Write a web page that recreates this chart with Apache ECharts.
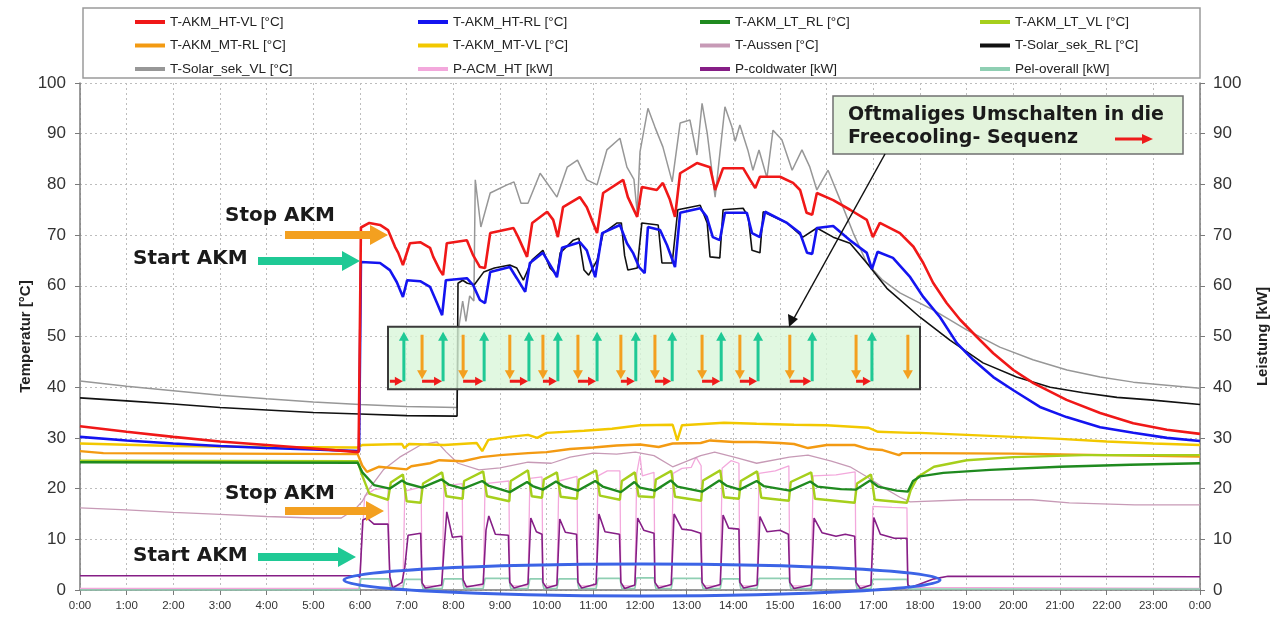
<!DOCTYPE html>
<html><head><meta charset="utf-8">
<script src="https://cdn.jsdelivr.net/npm/echarts/dist/echarts.min.js"></script>
<style>html,body{margin:0;padding:0;background:#fff}#c{width:1281px;height:621px}</style>
</head><body><div id="c"></div>
<script>
// ---------- tick labels ----------
const hourLabels = ['0:00','1:00','2:00','3:00','4:00','5:00','6:00','7:00','8:00','9:00','10:00','11:00','12:00','13:00','14:00','15:00','16:00','17:00','18:00','19:00','20:00','21:00','22:00','23:00','0:00'];

// ---------- AKM on/off switching times (hours) ----------
const cycleStart = [6.0, 6.94, 7.78, 8.66, 9.62, 10.24, 11.08, 11.91, 12.69, 13.74, 14.53, 15.69, 16.97];
const cycleStop  = [6.64, 7.33, 8.21, 9.21, 9.92, 10.67, 11.59, 12.32, 13.33, 14.14, 15.21, 16.63, 17.74];

// ---------- series values [hour, value] ----------
const htVl = [[0,32.3],[1,31.2],[2,30.2],[3,29.3],[4,28.6],[5,27.9],[5.97,27.2],[6.02,71.5],[6.2,72.4],[6.43,72],[6.6,71],[6.75,67.7],[6.82,66.5],[6.92,64.1],[7.07,68.4],[7.29,68.6],[7.5,67.5],[7.57,65.7],[7.71,63.1],[7.78,62.1],[7.86,68.4],[8.29,69],[8.42,66.1],[8.57,63.7],[8.68,63.5],[8.79,70.4],[9.29,71.4],[9.39,69.6],[9.58,65.7],[9.69,72.4],[10.01,74.6],[10.14,73],[10.24,69.6],[10.35,75.5],[10.71,77.5],[10.86,75.5],[11.08,70.4],[11.21,78.3],[11.64,80.9],[11.74,77.5],[11.94,73.6],[12.04,79.5],[12.36,78.9],[12.49,80.3],[12.64,77],[12.75,73.6],[12.86,82.2],[13.22,84.2],[13.5,83.4],[13.61,78.9],[13.78,83.2],[14.21,83.2],[14.36,80.9],[14.47,79.3],[14.57,81.5],[15.0,81.5],[15.28,80.3],[15.43,78.9],[15.57,74.4],[15.69,74],[15.79,78.3],[16.14,76.9],[16.5,75],[16.86,73],[16.99,69.6],[17.14,72.4],[17.57,70.4],[17.86,67.7],[18.07,64.5],[18.28,60.6],[18.57,56.6],[18.86,53.3],[19.22,49.9],[19.57,46.7],[20.0,43.4],[20.43,40.8],[21.14,37.5],[21.86,34.9],[22.57,32.9],[23.29,31.6],[24,30.8]];
const htRl = [[0,30.2],[1,29.5],[2,28.9],[3,28.4],[4,28],[5,27.7],[5.98,27.4],[6.02,64.7],[6.43,64.5],[6.64,63.1],[6.79,60.7],[6.92,57.8],[7.01,61.1],[7.29,60.9],[7.5,59.8],[7.65,56.6],[7.76,54.2],[7.84,61.1],[8.29,61.5],[8.42,60.2],[8.57,57.2],[8.68,56.6],[8.79,62.7],[9.21,63.7],[9.36,61.5],[9.54,58.8],[9.64,64.5],[9.92,66.5],[10.14,63.1],[10.22,61.7],[10.33,67.5],[10.71,68.6],[10.86,67],[11.04,61.7],[11.19,70.4],[11.57,72],[11.72,68.4],[11.85,66.5],[11.98,63.7],[12.1,62.5],[12.17,71.6],[12.43,71],[12.58,68],[12.75,63.7],[12.86,74.4],[13.29,75.3],[13.43,73.6],[13.56,69.6],[13.71,69],[13.82,74.4],[14.29,74.4],[14.4,70.4],[14.57,69.6],[14.68,74.6],[15.15,72.4],[15.43,70.4],[15.58,66.5],[15.69,66.3],[15.79,71.4],[16.14,71.8],[16.5,69],[16.86,66.5],[16.97,63.3],[17.09,66.7],[17.42,65.5],[17.79,61.7],[18.07,57.8],[18.43,53.8],[18.79,48.7],[19.14,45.4],[19.57,42],[20.0,39.4],[20.57,36.1],[21.14,34.1],[21.86,32.1],[22.57,31],[23.29,30],[24,29.4]];
const ltRl = [[0,25.2],[5.95,25.1],[6.05,23.2],[6.3,20.7],[6.64,20.0],[6.9,21.6],[7.0,21.0],[7.33,20.2],[7.75,21.8],[7.9,20.8],[8.21,20.0],[8.62,21.5],[8.75,20.6],[9.21,19.3],[9.58,21.3],[9.7,20.5],[9.92,19.8],[10.2,21.4],[10.35,20.5],[10.67,19.6],[11.04,21.5],[11.2,20.4],[11.59,19.3],[11.88,21.3],[12.0,20.2],[12.32,19.6],[12.66,21.6],[12.8,20.4],[13.33,19.4],[13.7,21.6],[13.85,20.6],[14.14,19.8],[14.5,21.5],[14.65,20.5],[15.21,19.6],[15.65,21.4],[15.8,20.4],[16.3,19.9],[16.63,19.8],[16.93,21.6],[17.1,20.4],[17.5,19.6],[17.74,19.4],[17.85,21.5],[18.0,22.4],[18.5,23.1],[19.5,23.7],[21,24.3],[22.5,24.7],[24,25.0]];
const ltVl = [[0,25.5],[5.95,25.4],[6.05,22.5],[6.2,19],[6.6,17.8],[6.66,21.2],[6.92,22.8],[7.0,17.5],[7.3,17.2],[7.35,21],[7.76,23.2],[7.85,18.5],[8.2,18],[8.23,21.5],[8.64,23.4],[8.72,18.5],[9.2,17.5],[9.23,21.5],[9.6,23.6],[9.68,18.5],[9.9,18.2],[9.94,21.8],[10.22,23.2],[10.3,18.4],[10.65,18],[10.69,21.8],[11.06,23.6],[11.14,18.6],[11.57,17.8],[11.61,21.5],[11.89,23.2],[11.97,18.5],[12.3,18.3],[12.34,21.8],[12.67,23.5],[12.75,18.4],[13.31,17.6],[13.35,21.6],[13.72,23.6],[13.8,18.3],[14.12,18],[14.16,21.5],[14.51,23.4],[14.6,18.2],[15.19,17.6],[15.23,21.3],[15.67,23.2],[15.75,18],[16.6,17.2],[16.65,21],[16.95,22.8],[17.03,17.8],[17.72,17.2],[17.8,19.7],[17.95,22.3],[18.3,24.3],[19.0,25.6],[20,26.2],[21.5,26.6],[24,26.6]];
const mtRl = [[0,27.4],[0.5,27.0],[5.95,26.8],[6.05,24.5],[6.15,23.3],[6.4,24.3],[7.0,23.8],[7.1,24.4],[7.5,25],[7.7,25.6],[8.2,25.4],[8.6,26.2],[9.0,26.6],[9.6,27],[10.0,27.2],[10.5,27.8],[11.0,28.1],[11.5,28.5],[12.0,28.7],[12.4,28.2],[12.7,28.9],[13.3,29],[13.5,29.5],[14.0,29.2],[14.5,29.2],[15.0,29],[15.3,28.8],[15.6,28],[16.0,28.6],[16.6,28.6],[16.9,27.8],[17.2,27.6],[17.55,26.6],[17.62,27],[18,27],[20,26.9],[22,26.6],[24,26.3]];
const mtVl = [[0,28.9],[2,28.4],[4,28.2],[5.95,28.1],[6.05,28.6],[6.9,28.8],[6.95,28],[7.05,28.8],[7.8,28.6],[8.5,29],[8.62,27.4],[8.75,29.6],[9.2,30.2],[9.6,30.6],[9.8,30],[10.0,31],[10.8,31.4],[11.4,31.8],[12.0,32.5],[12.7,32.6],[12.8,29.5],[12.9,32.5],[13.8,33],[14.5,32.8],[15.3,32.6],[16.0,32.5],[16.9,32],[17.1,31.2],[17.8,31],[18,31],[19,30.6],[20,30.2],[21,29.8],[22,29.3],[23,28.9],[24,28.6]];
const tAussen = [[0,16.2],[1,15.8],[2,15.3],[3,14.9],[4,14.5],[5,14.2],[5.6,14.2],[5.9,16],[6.05,17.5],[6.2,20],[6.5,23.7],[6.85,26.2],[7.3,28.6],[7.65,29.2],[7.85,27.2],[8.1,25],[8.55,23.7],[9.0,24.1],[9.6,25.2],[10.1,25],[10.5,26.2],[11.0,27],[11.5,26.8],[11.9,27.2],[12.3,26.5],[12.7,24.3],[13.3,26.5],[13.6,27.2],[14.1,26],[14.5,25],[15.2,26.2],[15.6,26.6],[16.1,25.4],[16.5,24.3],[16.87,22.3],[17.2,20.3],[17.57,18.3],[17.79,17.4],[19,17.8],[20.4,17.8],[21.2,17.2],[22.6,16.8],[24,16.8]];
const solarRl = [[0,37.9],[1,37.3],[2,36.7],[3,36],[4,35.5],[5,35],[6,34.7],[7,34.4],[8.08,34.3],[8.1,60.5],[8.2,61.1],[8.3,60.5],[8.45,60.2],[8.65,62.7],[8.88,63.5],[9.21,64.1],[9.36,63.5],[9.5,61.1],[9.69,65.1],[9.92,67],[10.07,63.5],[10.22,62.1],[10.29,66.5],[10.57,69],[10.69,69.4],[10.8,63.1],[10.9,62.1],[11.08,65],[11.21,70.4],[11.51,72.4],[11.6,72.4],[11.67,66],[11.74,63.1],[11.94,63.5],[12.04,72.4],[12.39,72],[12.47,64.5],[12.69,64.5],[12.81,75],[13.29,75.9],[13.44,72.4],[13.5,65.7],[13.71,65.5],[13.78,75],[14.21,75.3],[14.32,73.6],[14.4,67],[14.57,66.5],[14.64,74.6],[15.15,72.4],[15.49,69.6],[15.79,71.4],[16.14,69.6],[16.5,68.4],[16.86,64.5],[17.29,59.5],[18.0,53.8],[18.64,49.3],[19.35,44.8],[20.07,42],[20.79,40],[21.5,38.9],[22.22,38],[22.93,37.5],[24,36.6]];
const solarVl = [[0,41.2],[1,40.2],[2,39.3],[3,38.4],[4,37.7],[5,37.1],[6,36.6],[7,36.2],[8.08,36],[8.12,52],[8.2,57],[8.27,53],[8.35,58],[8.44,57],[8.47,80.9],[8.59,71.6],[8.79,78.3],[9.15,79.9],[9.3,80.5],[9.45,76.3],[9.6,76.3],[9.86,82.2],[10.22,77.5],[10.44,83.4],[10.66,84.8],[10.86,80.9],[11.08,79.9],[11.29,86.8],[11.57,89.1],[11.72,83.4],[11.87,81],[11.94,74.4],[12.0,86.4],[12.17,95],[12.32,91.3],[12.49,87.4],[12.69,80.5],[12.86,92.1],[13.07,92.7],[13.22,85.8],[13.33,96],[13.44,90.1],[13.61,77.5],[13.82,95.3],[13.97,91.3],[14.04,88.5],[14.14,91.7],[14.31,86.8],[14.42,82.8],[14.55,86.8],[14.72,81.3],[14.85,90.7],[15.04,88.8],[15.26,82.8],[15.47,86.8],[15.64,83.4],[15.79,78.9],[16.03,82.8],[16.29,76.9],[16.57,70.4],[16.86,64.5],[17.2,61.1],[17.57,58.6],[18.29,55.2],[19.0,51.3],[19.71,47.9],[20.42,45.4],[21.15,43.4],[21.86,42],[22.57,41],[24,39.8]];
const pAcmHt = [[0,0.3],[5.98,0.3],[6.03,8],[6.1,18.5],[6.3,19.8],[6.6,20.2],[6.64,0.8],[6.92,0.8],[6.96,19.5],[7.31,20.3],[7.33,0.8],[7.76,0.8],[7.8,20.5],[8.19,21],[8.21,0.8],[8.64,0.8],[8.68,21],[9.19,21.5],[9.21,0.8],[9.6,0.8],[9.64,22],[9.9,22.3],[9.92,0.8],[10.22,0.8],[10.26,21.5],[10.65,22.4],[10.67,0.8],[11.06,0.8],[11.1,22.5],[11.3,23.5],[11.57,23.5],[11.59,0.8],[11.89,0.8],[11.93,23],[12.0,26.5],[12.05,22.5],[12.3,23.2],[12.32,0.8],[12.67,0.8],[12.71,23],[12.9,24],[13.1,24.2],[13.2,26.2],[13.31,24.5],[13.33,0.8],[13.72,0.8],[13.76,24],[13.95,25.5],[14.12,25],[14.14,0.8],[14.51,0.8],[14.55,23],[14.9,23.5],[15.19,24.5],[15.21,0.8],[15.67,0.8],[15.71,22.5],[16.2,22.7],[16.61,23.3],[16.63,0.8],[16.95,0.8],[16.99,16.5],[17.4,16.3],[17.72,16.2],[17.74,0.5],[24,0.3]];
const pColdwater = [[0,2.8],[5.95,2.8],[6.0,2.5],[6.06,13.8],[6.15,14.2],[6.3,13],[6.6,13],[6.64,2.6],[6.7,0.4],[6.9,1.5],[6.96,4.5],[7.03,10.8],[7.3,11.2],[7.33,1.4],[7.4,0.4],[7.75,1],[7.8,8],[7.86,15.4],[7.98,10.4],[8.18,10.6],[8.21,2],[8.28,0.6],[8.64,1.2],[8.7,11.8],[8.76,14.6],[8.9,11],[9.18,10.8],[9.21,1.5],[9.3,0.4],[9.6,1.2],[9.66,14.2],[9.78,11.5],[9.9,11],[9.92,1.5],[10.0,0.4],[10.22,1],[10.28,14],[10.4,11.4],[10.64,11],[10.67,1.5],[10.75,0.4],[11.06,1.2],[11.12,15],[11.25,11.5],[11.56,11],[11.59,1.5],[11.67,0.3],[11.89,1],[11.95,14.2],[12.08,11.8],[12.3,11.2],[12.32,1.5],[12.4,0.4],[12.67,1.1],[12.73,15],[12.9,12],[13.1,11.8],[13.3,11.2],[13.33,1.5],[13.42,0.3],[13.72,1.1],[13.78,14.8],[13.9,12.2],[14.12,12],[14.14,1.5],[14.22,0.4],[14.51,1],[14.57,14.5],[14.72,11.5],[15.0,11.8],[15.18,11],[15.21,1.5],[15.3,0.3],[15.67,1],[15.73,14.2],[15.9,11.3],[16.2,10.6],[16.4,11],[16.6,10.6],[16.63,1.5],[16.72,0.3],[16.95,1],[17.01,14.3],[17.15,11],[17.45,10.2],[17.72,10.2],[17.74,1],[17.8,0.5],[18.3,2.2],[18.6,2.7],[24,2.6]];
const pelOverall = [[0,0],[5.98,0],[6.02,2.2],[6.62,2.2],[6.66,0.3],[6.92,0.3],[6.96,2.1],[7.31,2.1],[7.35,0.3],[7.76,0.3],[7.8,2.2],[8.19,2.2],[8.23,0.3],[8.64,0.3],[8.68,2.3],[9.19,2.3],[9.23,0.3],[9.6,0.3],[9.64,2.2],[9.9,2.2],[9.94,0.3],[10.22,0.3],[10.26,2.2],[10.65,2.2],[10.69,0.3],[11.06,0.3],[11.1,2.3],[11.57,2.3],[11.61,0.3],[11.89,0.3],[11.93,2.4],[12.3,2.4],[12.34,0.3],[12.67,0.3],[12.71,2.3],[13.31,2.3],[13.35,0.3],[13.72,0.3],[13.76,2.2],[14.12,2.2],[14.16,0.3],[14.51,0.3],[14.55,2.3],[15.19,2.3],[15.23,0.3],[15.67,0.3],[15.71,2.2],[16.61,2.2],[16.65,0.3],[16.95,0.3],[16.99,2.1],[17.72,2.1],[17.76,0.2],[24,0.2]];

const seriesNames = ['T-AKM_HT-VL [°C]','T-AKM_HT-RL [°C]','T-AKM_LT_RL [°C]','T-AKM_LT_VL [°C]','T-AKM_MT-RL [°C]','T-AKM_MT-VL [°C]','T-Aussen [°C]','T-Solar_sek_RL [°C]','T-Solar_sek_VL [°C]','P-ACM_HT [kW]','P-coldwater [kW]','Pel-overall [kW]'];
const seriesData = [htVl, htRl, ltRl, ltVl, mtRl, mtVl, tAussen, solarRl, solarVl, pAcmHt, pColdwater, pelOverall];
const seriesColors = ['#f01818','#1414f0','#1f8a1f','#a6cf1c','#f39a12','#f2c800','#c79ab6','#111111','#979797','#f3a8dc','#861e86','#8fcfb3'];
const seriesWidths = [2.6,2.6,2.4,2.4,2.4,2.4,1.3,1.6,1.5,1.3,1.6,1.6];
const seriesAxis = [0,0,0,0,0,0,0,0,0,1,1,1];
const drawOrder = [9,6,11,10,4,5,3,2,8,7,1,0];

const SANS = '"Liberation Sans",Arial,sans-serif';
const BOLDF = '"DejaVu Sans",Verdana,sans-serif';

const chart = echarts.init(document.getElementById('c'), null, {renderer:'canvas'});
const legendCols = [0,1,2,3].map(c => [seriesNames[c], seriesNames[c+4], seriesNames[c+8]]);
const legendLefts = [130, 413, 695, 975];

const option = {
  animation: false,
  backgroundColor: '#fff',
  grid: {left: 80, right: 81, top: 83, bottom: 31},
  legend: legendCols.map((col, i) => ({
    data: col, left: legendLefts[i], top: 9, orient: 'vertical',
    itemWidth: 30, itemHeight: 4, itemGap: 7.5, icon: 'rect', selectedMode: false,
    textStyle: {fontFamily: SANS, fontSize: 13.5, lineHeight: 16, color: '#222'}
  })),
  xAxis: {
    type: 'value', min: 0, max: 24, interval: 1,
    axisLine: {show: true, onZero: false, lineStyle: {color: '#7a7a7a', width: 1.5}},
    axisTick: {show: true, inside: false, length: 5, lineStyle: {color: '#7a7a7a'}},
    axisLabel: {formatter: v => hourLabels[Math.round(v)], fontFamily: SANS, fontSize: 11.5, color: '#333', margin: 10},
    splitLine: {show: true, lineStyle: {color: '#bdbdbd', type: [2,3], width: 1}}
  },
  yAxis: [
    {type: 'value', min: 0, max: 100, interval: 10, position: 'left',
     name: 'Temperatur [°C]', nameLocation: 'middle', nameGap: 47, nameMoveOverlap: false,
     nameTextStyle: {fontFamily: SANS, fontWeight: 'bold', fontSize: 15, color: '#222'},
     axisLine: {show: true, lineStyle: {color: '#7a7a7a', width: 1.5}},
     axisTick: {show: true, length: 5, lineStyle: {color: '#7a7a7a'}},
     axisLabel: {fontFamily: SANS, fontSize: 17, color: '#333', margin: 14},
     splitLine: {show: true, lineStyle: {color: '#bdbdbd', type: [2,3], width: 1}}},
    {type: 'value', min: 0, max: 100, interval: 10, position: 'right',
     name: 'Leistung [kW]', nameLocation: 'middle', nameGap: 55, nameRotate: 90,
     nameTextStyle: {fontFamily: SANS, fontWeight: 'bold', fontSize: 15, color: '#222'},
     axisLine: {show: true, lineStyle: {color: '#7a7a7a', width: 1.5}},
     axisTick: {show: true, length: 5, lineStyle: {color: '#7a7a7a'}},
     axisLabel: {fontFamily: SANS, fontSize: 17, color: '#333', margin: 13},
     splitLine: {show: false}}
  ],
  series: seriesNames.map((n, i) => ({
    name: n, type: 'line', data: seriesData[i], yAxisIndex: seriesAxis[i],
    showSymbol: false, symbol: 'none', smooth: false,
    z: 2 + drawOrder.indexOf(i) * 0.01,
    color: seriesColors[i],
    lineStyle: {color: seriesColors[i], width: seriesWidths[i]},
    emphasis: {disabled: true}
  }))
};
chart.setOption(option);

// ---------- annotations ----------
function hArrow(x1, x2, y, shaft, headLen, headW, color, z) {
  const s = shaft/2, h = headW/2, xb = x2 - headLen;
  return {type: 'polygon', z: z || 50, silent: true,
    shape: {points: [[x1,y-s],[xb,y-s],[xb,y-h],[x2,y],[xb,y+h],[xb,y+s],[x1,y+s]]},
    style: {fill: color}};
}
function vArrow(x, y1, y2, shaft, headLen, headW, color) {
  const s = shaft/2, h = headW/2, dir = y2 > y1 ? 1 : -1, yb = y2 - dir*headLen;
  return {type: 'polygon', z: 52, silent: true,
    shape: {points: [[x-s,y1],[x-s,yb],[x-h,yb],[x,y2],[x+h,yb],[x+s,yb],[x+s,y1]]},
    style: {fill: color}};
}
const px = t => chart.convertToPixel({xAxisIndex: 0}, t);
const py = v => chart.convertToPixel({yAxisIndex: 0}, v);

const ORANGE = '#f3a020', TEAL = '#1fc995', RED = '#ee1b1b';
const g = [];
// legend frame
g.push({type:'rect', z: 40, silent:true, shape:{x:83, y:8, width:1117, height:70}, style:{fill:'none', stroke:'#9a9a9a', lineWidth:1.5}});
const txt = (x, y, s, size) => ({type:'text', z: 55, silent:true, x, y,
  style:{text:s, font:'bold '+size+'px '+BOLDF, fill:'#1a1a1a', textVerticalAlign:'middle'}});
g.push(txt(225, 216, 'Stop AKM', 20));
g.push(txt(133, 259, 'Start AKM', 20));
g.push(txt(225, 494, 'Stop AKM', 20));
g.push(txt(133, 556, 'Start AKM', 20));
g.push(hArrow(285, 388, 235, 8, 18, 20, ORANGE));
g.push(hArrow(258, 360, 261, 8, 18, 20, TEAL));
g.push(hArrow(285, 384, 511, 8, 18, 20, ORANGE));
g.push(hArrow(258, 356, 557, 8, 18, 20, TEAL));

// switching box
const boxL = 388, boxR = 920, boxT = py(51.9), boxB = py(39.6);
g.push({type:'rect', z: 48, silent:true, shape:{x:boxL, y:boxT, width:boxR-boxL, height:boxB-boxT},
  style:{fill:'rgba(218,246,218,0.8)', stroke:'#3a3a3a', lineWidth:2}});
const arrTop = boxT + 5, arrBot = boxB - 9;
for (let i = 1; i < cycleStart.length; i++) {
  g.push(vArrow(px(cycleStart[i]), arrBot + 1, arrTop, 3, 9, 10, TEAL));
}
for (let i = 1; i < cycleStop.length; i++) {
  g.push(vArrow(px(cycleStop[i]), arrTop + 3, arrBot - 1, 3, 9, 10, ORANGE));
}
for (let i = 0; i < cycleStop.length - 1; i++) {
  const x1 = Math.max(px(cycleStop[i]), boxL + 1), x2 = px(cycleStart[i+1]) - 1;
  g.push(hArrow(x1, x2, arrBot + 1, 3, 8, 9, RED, 53));
}

// callout
g.push({type:'rect', z: 48, silent:true, shape:{x:833, y:96, width:350, height:58},
  style:{fill:'#e3f4dc', stroke:'#707070', lineWidth:1.5}});
g.push(txt(848, 115, 'Oftmaliges Umschalten in die', 19));
g.push(txt(848, 138, 'Freecooling- Sequenz', 19));
g.push(hArrow(1115, 1153, 139, 3, 11, 10, RED));
// pointer line
g.push({type:'line', z: 54, silent:true, shape:{x1:885, y1:154, x2:793, y2:320}, style:{stroke:'#111', lineWidth:1.5}});
g.push({type:'polygon', z: 54, silent:true, shape:{points:[[789,327],[788,314],[798,319]]}, style:{fill:'#111'}});
// ellipse
g.push({type:'ellipse', z: 56, silent:true, shape:{cx:642, cy:580, rx:298, ry:16}, style:{fill:'none', stroke:'#3c64e6', lineWidth:3}});

chart.setOption({graphic: g});
</script></body></html>
